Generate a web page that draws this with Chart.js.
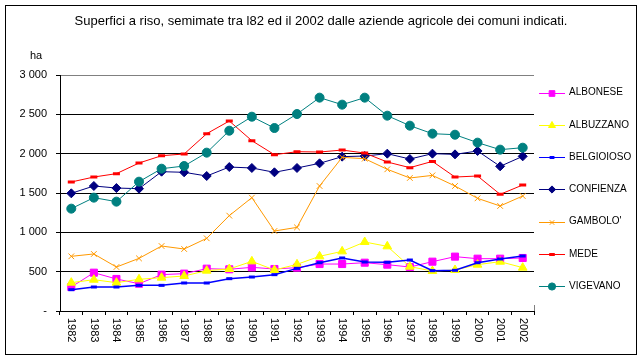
<!DOCTYPE html>
<html>
<head>
<meta charset="utf-8">
<script src="https://cdn.jsdelivr.net/npm/chart.js@4/dist/chart.umd.min.js"></script>
<style>
  html, body { margin: 0; padding: 0; background: #fff; }
  #wrap { width: 644px; height: 361px; }
</style>
</head>
<body>
<div id="wrap"><canvas id="chart" width="644" height="361"></canvas></div>
<script>
const years = ['1982', '1983', '1984', '1985', '1986', '1987', '1988', '1989', '1990', '1991', '1992',
  '1993', '1994', '1995', '1996', '1997', '1998', '1999', '2000', '2001', '2002'];

const albonese   = [305, 487, 407, 347, 462, 475, 538, 530, 555, 534, 551, 597, 597, 614, 589, 559, 627, 691, 665, 665, 674];
const albuzzano  = [360, 398, 360, 403, 424, 445, 513, 534, 631, 521, 593, 695, 758, 877, 822, 564, 508, 521, 589, 627, 551];
const belgioioso = [271, 305, 305, 326, 326, 356, 356, 411, 432, 462, 542, 614, 674, 623, 619, 648, 513, 517, 614, 661, 699];
const confienza  = [1496, 1589, 1563, 1555, 1771, 1763, 1716, 1830, 1818, 1763, 1818, 1877, 1962, 1970, 2000, 1932, 2000, 1991, 2034, 1839, 1966];
const gambolo    = [695, 725, 559, 669, 826, 788, 924, 1212, 1441, 1017, 1063, 1589, 1953, 1936, 1801, 1691, 1724, 1589, 1432, 1335, 1462];
const mede       = [1640, 1703, 1746, 1881, 1974, 1996, 2254, 2415, 2165, 1987, 2025, 2021, 2046, 2008, 1894, 1822, 1902, 1703, 1716, 1483, 1602];
const vigevano   = [1301, 1441, 1390, 1644, 1809, 1843, 2013, 2292, 2470, 2326, 2504, 2712, 2623, 2712, 2483, 2356, 2254, 2241, 2140, 2051, 2076];

const yTickLabels = ['-', '500', '1 000', '1 500', '2 000', '2 500', '3 000'];

const TITLE = 'Superfici a riso, semimate tra l82 ed il 2002 dalle aziende agricole dei comuni indicati.';
const FONT = "'Liberation Sans', Arial, sans-serif";

function series(label, data, color, style, radius, extra) {
  return Object.assign({
    label: label,
    data: data,
    borderColor: color,
    backgroundColor: color,
    pointBackgroundColor: color,
    pointBorderColor: color,
    pointStyle: style,
    pointRadius: radius,
    pointHoverRadius: radius,
    pointBorderWidth: 1,
    borderWidth: 1,
    tension: 0,
    fill: false
  }, extra || {});
}

const datasets = [
  series('ALBONESE', albonese, '#FF00FF', 'rect', 5),
  series('ALBUZZANO', albuzzano, '#FFFF00', 'triangle', 5),
  series('BELGIOIOSO', belgioioso, '#0000FF', 'line', 3, { borderWidth: 1.5, pointBorderWidth: 3 }),
  series('CONFIENZA', confienza, '#000080', 'rectRot', 4.5),
  series('GAMBOLO\'', gambolo, '#FF9900', 'crossRot', 4),
  series('MEDE', mede, '#FF0000', 'line', 3.5, { pointBorderWidth: 3 }),
  series('VIGEVANO', vigevano, '#008080', 'circle', 4.5)
];
// first series at the bottom, like the original
datasets.forEach((d, i) => { d.order = datasets.length - i; });

// frame, title, "ha", rotated year labels and the legend
const decorations = {
  id: 'decorations',
  beforeDraw(chart) {
    const ctx = chart.ctx;
    ctx.save();
    ctx.fillStyle = '#fff';
    ctx.fillRect(0, 0, chart.width, chart.height);
    ctx.restore();
  },
  afterDraw(chart) {
    const ctx = chart.ctx;
    const x = chart.scales.x;
    ctx.save();
    ctx.strokeStyle = '#000';
    ctx.lineWidth = 1;
    ctx.strokeRect(5.5, 5.5, 631, 349);

    ctx.fillStyle = '#000';
    ctx.font = '13px ' + FONT;
    ctx.textAlign = 'center';
    ctx.textBaseline = 'middle';
    ctx.fillText(TITLE, 321, 21);

    ctx.font = '11px ' + FONT;
    ctx.textAlign = 'left';
    ctx.fillText('ha', 30, 56);

    // year labels, reading top to bottom
    years.forEach((lab, i) => {
      const px = x.getPixelForValue(i);
      ctx.save();
      ctx.translate(px, x.top + 7);
      ctx.rotate(Math.PI / 2);
      ctx.textAlign = 'left';
      ctx.textBaseline = 'middle';
      ctx.fillText(lab, 0, 0);
      ctx.restore();
    });

    // small gray stub at right of plot area
    ctx.strokeStyle = '#808080';
    ctx.beginPath();
    ctx.moveTo(Math.round(chart.chartArea.right) + 0.5, chart.chartArea.bottom - 6);
    ctx.lineTo(Math.round(chart.chartArea.right) + 0.5, chart.chartArea.bottom);
    ctx.stroke();

    // legend
    ctx.font = '10px ' + FONT;
    chart.data.datasets.forEach((d, i) => {
      const ly = 92.5 + i * 32.3;
      ctx.strokeStyle = d.borderColor;
      ctx.lineWidth = 1;
      ctx.beginPath();
      ctx.moveTo(539, Math.round(ly) + 0.5);
      ctx.lineTo(565, Math.round(ly) + 0.5);
      ctx.stroke();
      if (Chart.helpers && Chart.helpers.drawPoint) {
        ctx.fillStyle = d.pointBackgroundColor;
        ctx.strokeStyle = d.pointBorderColor;
        ctx.lineWidth = d.pointBorderWidth;
        Chart.helpers.drawPoint(ctx, {
          pointStyle: d.pointStyle,
          radius: d.pointRadius * 0.8,
          rotation: 0,
          borderWidth: d.pointBorderWidth
        }, 552, Math.round(ly) + 0.5);
      }
      ctx.fillStyle = '#000';
      ctx.textAlign = 'left';
      ctx.textBaseline = 'middle';
      ctx.fillText(d.label, 569, ly);
    });
    ctx.restore();
  }
};

new Chart(document.getElementById('chart'), {
  type: 'line',
  data: { labels: years, datasets: datasets },
  plugins: [decorations],
  options: {
    responsive: false,
    animation: false,
    devicePixelRatio: 1,
    layout: { padding: { left: 0, right: 110, top: 75, bottom: 0 } },
    plugins: {
      legend: { display: false },
      tooltip: { enabled: false },
      title: { display: false }
    },
    scales: {
      x: {
        type: 'category',
        offset: true,
        afterFit(scale) { scale.height = 50; },
        grid: { offset: true, drawOnChartArea: false, drawTicks: true, tickLength: 4, color: '#000' },
        border: { color: '#000', width: 1 },
        ticks: { display: false }
      },
      y: {
        min: 0,
        max: 3000,
        afterFit(scale) { scale.width = 60; },
        afterBuildTicks(scale) {
          scale.ticks = yTickLabels.map((t, i) => ({ value: i * 500 }));
        },
        grid: {
          color: (c) => (c.tick && c.tick.value === 3000 ? '#808080' : '#000'),
          tickColor: '#000',
          tickLength: 4,
          lineWidth: 1
        },
        border: { color: '#000', width: 1 },
        ticks: {
          color: '#000',
          padding: 9,
          font: { family: FONT, size: 11 },
          callback: (v, i) => yTickLabels[i]
        }
      }
    }
  }
});
</script>
</body>
</html>
